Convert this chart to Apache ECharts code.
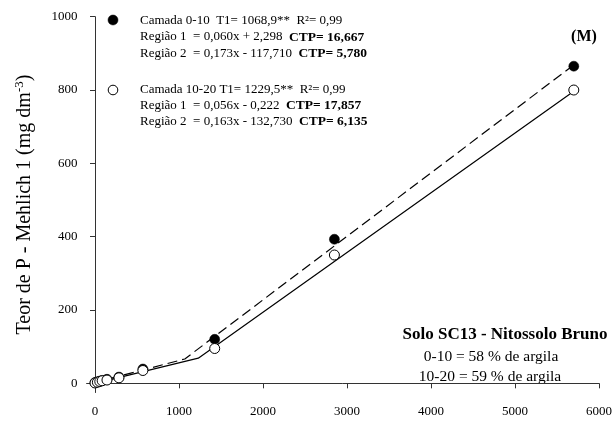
<!DOCTYPE html>
<html>
<head>
<meta charset="utf-8">
<script src="https://cdn.jsdelivr.net/npm/echarts@6/dist/echarts.min.js"></script>
<style>
  html, body { margin: 0; padding: 0; background: #ffffff; }
  #chart { width: 615px; height: 421px; }
</style>
</head>
<body>
<div id="chart"></div>
<script>
// P doses added (mg dm-3) and extracted P for each soil layer
const doses = [0, 28.5, 57, 85.5, 142.5, 285, 570, 1425, 2850, 5700];
const layer0_10 = [2, 4, 6, 8, 11, 17, 39, 120, 393, 865];
const layer10_20 = [1, 3, 5, 7, 9, 15, 35, 95, 350, 800];

// Segmented fits: start, breakpoint (T1) and end of each model
const fit0_10 = [[0, 2.3], [1068.9, 66.4], [5700, 868.4]];
const fit10_20 = [[0, -0.2], [1229.5, 68.6], [5700, 796.4]];

const xTicks = [0, 1000, 2000, 3000, 4000, 5000, 6000];
const yTicks = [0, 200, 400, 600, 800, 1000];

const FONT = '"Liberation Serif", "Times New Roman", serif';
const INK = '#000000';
const AXIS = '#333333';

const pairs = (xs, ys) => xs.map((x, i) => [x, ys[i]]);
const plain = v => String(v);

const chart = echarts.init(document.getElementById('chart'), null, { renderer: 'canvas' });

chart.setOption({
  animation: false,
  backgroundColor: '#ffffff',
  grid: { left: 86.6, right: 14, top: 16.7, bottom: 28.5, containLabel: false },
  xAxis: {
    type: 'value',
    min: -100,
    max: 6000,
    axisLine: { show: true, lineStyle: { color: AXIS, width: 1 } },
    axisTick: { show: true, customValues: xTicks, length: 5, lineStyle: { color: AXIS } },
    axisLabel: { customValues: xTicks, formatter: plain, margin: 13, color: INK, fontFamily: FONT, fontSize: 13 },
    splitLine: { show: false }
  },
  yAxis: {
    type: 'value',
    min: -25,
    max: 1000,
    name: '{t|Teor de P - Mehlich 1 (mg dm}{s|-3}{t|)}',
    nameLocation: 'middle',
    nameGap: 50,
    nameTextStyle: {
      rich: {
        t: { fontFamily: FONT, fontSize: 20, color: INK },
        s: { fontFamily: FONT, fontSize: 13, color: INK, padding: [0, 0, 11, 0] }
      }
    },
    axisLine: { show: true, lineStyle: { color: AXIS, width: 1 } },
    axisTick: { show: true, customValues: yTicks, length: 5, lineStyle: { color: AXIS } },
    axisLabel: { customValues: yTicks, formatter: plain, margin: 9, color: INK, fontFamily: FONT, fontSize: 13 },
    splitLine: { show: false }
  },
  series: [
    {
      name: 'Ajuste 0-10',
      type: 'line',
      data: fit0_10,
      symbol: 'none',
      z: 1,
      lineStyle: { color: INK, width: 1.2, type: [10, 5] }
    },
    {
      name: 'Ajuste 10-20',
      type: 'line',
      data: fit10_20,
      symbol: 'none',
      z: 1,
      lineStyle: { color: INK, width: 1.2, type: 'solid' }
    },
    {
      name: 'Camada 0-10',
      type: 'scatter',
      data: pairs(doses, layer0_10),
      symbol: 'circle',
      symbolSize: 10,
      z: 3,
      itemStyle: { color: INK, borderColor: INK, borderWidth: 0.5, opacity: 1 }
    },
    {
      name: 'Camada 10-20',
      type: 'scatter',
      data: pairs(doses, layer10_20),
      symbol: 'circle',
      symbolSize: 10,
      z: 4,
      itemStyle: { color: '#ffffff', borderColor: INK, borderWidth: 1, opacity: 1 }
    }
  ],
  graphic: [
    // legend markers
    { type: 'circle', shape: { cx: 113, cy: 20, r: 5 }, style: { fill: INK, stroke: INK, lineWidth: 0.5 } },
    { type: 'circle', shape: { cx: 113, cy: 90, r: 4.8 }, style: { fill: '#ffffff', stroke: INK, lineWidth: 1 } },
    // legend text, layer 0-10
    {
      type: 'text', left: 140, top: 12,
      style: {
        text: 'Camada 0-10  T1= 1068,9**  R\u00b2= 0,99\n' +
              'Regi\u00e3o 1  = 0,060x + 2,298  {b|CTP= 16,667}\n' +
              'Regi\u00e3o 2  = 0,173x - 117,710  {b|CTP= 5,780}',
        font: '13px ' + FONT, fill: INK, lineHeight: 16.7,
        rich: { b: { fontWeight: 'bold', fontFamily: FONT, fontSize: 13.5, fill: INK } }
      }
    },
    // legend text, layer 10-20
    {
      type: 'text', left: 140, top: 81,
      style: {
        text: 'Camada 10-20 T1= 1229,5**  R\u00b2= 0,99\n' +
              'Regi\u00e3o 1  = 0,056x - 0,222  {b|CTP= 17,857}\n' +
              'Regi\u00e3o 2  = 0,163x - 132,730  {b|CTP= 6,135}',
        font: '13px ' + FONT, fill: INK, lineHeight: 16.4,
        rich: { b: { fontWeight: 'bold', fontFamily: FONT, fontSize: 13.5, fill: INK } }
      }
    },
    // panel tag
    {
      type: 'text', x: 584, y: 37,
      style: { text: '(M)', font: 'bold 16px ' + FONT, fill: INK, align: 'center', verticalAlign: 'middle' }
    },
    // soil description
    {
      type: 'text', x: 505, y: 335,
      style: { text: 'Solo SC13 - Nitossolo Bruno', font: 'bold 17px ' + FONT, fill: INK, align: 'center', verticalAlign: 'middle' }
    },
    {
      type: 'text', x: 491, y: 357,
      style: { text: '0-10 = 58 % de argila', font: '15.5px ' + FONT, fill: INK, align: 'center', verticalAlign: 'middle' }
    },
    {
      type: 'text', x: 490, y: 377,
      style: { text: '10-20 = 59 % de argila', font: '15.5px ' + FONT, fill: INK, align: 'center', verticalAlign: 'middle' }
    }
  ]
});
</script>
</body>
</html>
